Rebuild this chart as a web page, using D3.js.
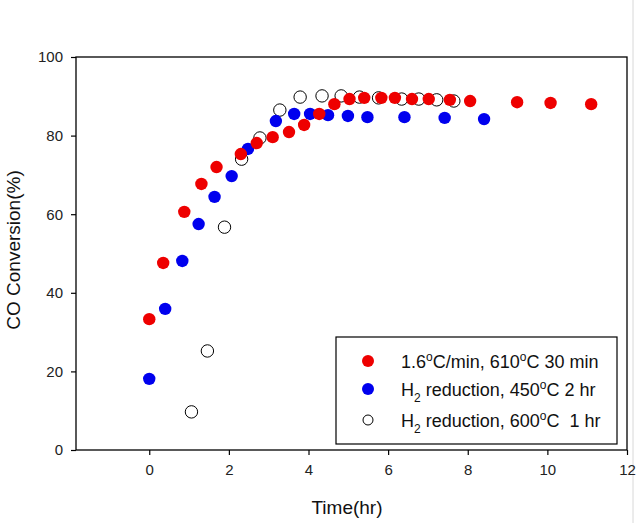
<!DOCTYPE html>
<html><head><meta charset="utf-8">
<script src="https://cdn.jsdelivr.net/npm/d3@7"></script>
<style>
body{margin:0;background:#fff;}
text{font-family:"Liberation Sans",Arial,sans-serif;white-space:pre;}
</style></head>
<body><svg id="c" width="636" height="523"></svg>
<script>
const xTicks=[0,2,4,6,8,10,12];
const yTicks=[0,20,40,60,80,100];
const redX=[0,0.35,0.88,1.31,1.69,2.3,2.7,3.1,3.51,3.89,4.27,4.65,5.03,5.4,5.83,6.17,6.6,7.02,7.55,8.06,9.24,10.08,11.1];
const redY=[33.3,47.6,60.6,67.7,72.0,75.3,78.1,79.6,80.9,82.7,85.5,88.0,89.3,89.6,89.6,89.6,89.3,89.3,89.1,88.8,88.5,88.3,88.0];
const blueX=[0,0.4,0.83,1.24,1.64,2.07,2.48,3.18,3.64,4.04,4.49,4.99,5.48,6.41,7.42,8.41];
const blueY=[18.1,35.9,48.1,57.5,64.4,69.7,76.6,83.7,85.5,85.5,85.2,85.0,84.7,84.7,84.5,84.2];
const openX=[1.06,1.46,1.89,2.32,2.78,3.28,3.79,4.34,4.82,5.28,5.76,6.34,6.77,7.22,7.65];
const openY=[9.7,25.2,56.7,74.0,79.4,86.5,89.8,90.1,90.1,89.8,89.6,89.3,89.3,89.1,88.8];
// legend labels: parts [text, kind] where kind: n=normal, s=subscript, o=superscript
const seriesLabels=[
  [["1.6","n"],["o","o"],["C/min, 610","n"],["o","o"],["C 30 min","n"]],
  [["H","n"],["2","s"],[" reduction, 450","n"],["o","o"],["C 2 hr","n"]],
  [["H","n"],["2","s"],[" reduction, 600","n"],["o","o"],["C  1 hr","n"]]
];

const svg=d3.select("#c");
const L=76,R=627,T=57,B=450;
const x=d3.scaleLinear().domain([-1.84,12]).range([L,R]);
const y=d3.scaleLinear().domain([0,100]).range([B,T]);

svg.append("line").attr("x1",633).attr("x2",633).attr("y1",0).attr("y2",523).attr("stroke","#d8d8d8");

svg.append("rect").attr("x",L).attr("y",T).attr("width",R-L).attr("height",B-T)
  .attr("fill","none").attr("stroke","#000").attr("stroke-width",1.3);

const xa=svg.append("g").attr("transform",`translate(0,${B})`)
  .call(d3.axisBottom(x).tickValues(xTicks).tickSize(5).tickPadding(9).tickFormat(d3.format("d")));
const ya=svg.append("g").attr("transform",`translate(${L},0)`)
  .call(d3.axisLeft(y).tickValues(yTicks).tickSize(5).tickPadding(8));
[xa,ya].forEach(a=>{a.select(".domain").remove();
  a.selectAll("line").attr("stroke","#000").attr("stroke-width",1.2);
  a.selectAll("text").attr("font-size",15).attr("fill","#222").attr("font-family","Liberation Sans, Arial, sans-serif");});

svg.append("text").attr("x",347).attr("y",514).attr("text-anchor","middle").attr("font-size",19).attr("fill","#111").text("Time(hr)");
svg.append("text").attr("transform","translate(20,250) rotate(-90)").attr("text-anchor","middle").attr("font-size",19).attr("fill","#111").text("CO Conversion(%)");

const r=6.2;
function pts(xs,ys,fill,stroke){
  svg.append("g").selectAll("circle").data(xs.map((v,i)=>[v,ys[i]])).join("circle")
    .attr("cx",d=>x(d[0])).attr("cy",d=>y(d[1])).attr("r",r)
    .attr("fill",fill).attr("stroke",stroke).attr("stroke-width",stroke==="none"?0:1);
}
pts(openX,openY,"#fff","#000");
pts(blueX,blueY,"#0000ee","none");
pts(redX,redY,"#ee0000","none");

const lg=svg.append("g");
lg.append("rect").attr("x",336).attr("y",337).attr("width",281).attr("height",107)
  .attr("fill","#fff").attr("stroke","#000").attr("stroke-width",1.2);
const rows=[{c:"#ee0000",s:"none",y:361},{c:"#0000ee",s:"none",y:389},{c:"#fff",s:"#000",y:420}];
rows.forEach((rw,i)=>{
  lg.append("circle").attr("cx",368).attr("cy",rw.y).attr("r",i===2?5:6)
    .attr("fill",rw.c).attr("stroke",rw.s).attr("stroke-width",rw.s==="none"?0:1);
  const t=lg.append("text").attr("x",401).attr("y",rw.y+6.5).attr("font-size",18).attr("fill","#111");
  let cur=0;
  seriesLabels[i].forEach(([txt,k])=>{
    const target=k==="s"?6:(k==="o"?-7:0);
    const ts=t.append("tspan").attr("dy",target-cur).text(txt);
    if(k!=="n") ts.attr("font-size",12);
    cur=target;
  });
});
</script></body></html>
